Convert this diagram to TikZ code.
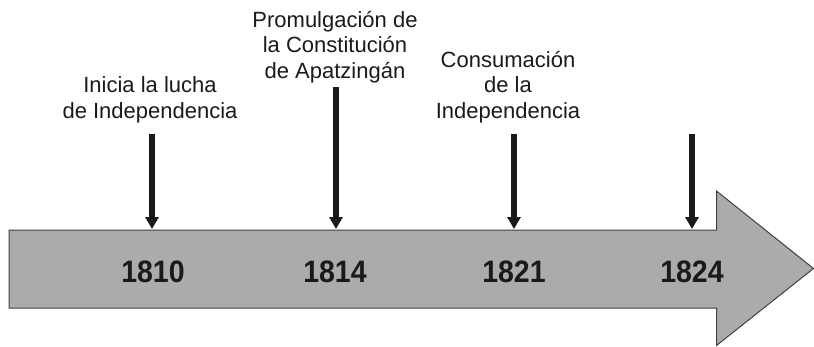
\documentclass[tikz,border=0pt]{standalone}
\usepackage{fontspec}
\setmainfont{Liberation Sans}
\usetikzlibrary{arrows.meta}
\definecolor{bodygray}{RGB}{171,171,171}
\definecolor{edgegray}{RGB}{64,64,64}
\definecolor{ink}{RGB}{26,26,26}
\tikzset{
  lbl/.style={align=center, inner sep=0pt, anchor=base, text=ink,
    font=\fontsize{22pt}{25.5pt}\selectfont},
  yr/.style={inner sep=0pt, anchor=base, text=ink,
    font=\fontsize{31pt}{31pt}\selectfont\bfseries},
  pin/.style={draw=ink, line width=6pt,
    -{Triangle[width=13pt,length=12pt]}}
}
\begin{document}
\begin{tikzpicture}[x=1pt,y=-1pt]
\useasboundingbox (0,0) rectangle (814,346);
% timeline arrow
\draw[fill=bodygray, draw=edgegray, line width=1pt]
  (9,230) -- (716.5,230) -- (716.5,191) -- (813.5,268.5) -- (716.5,345.5)
  -- (716.5,308) -- (9,308) -- cycle;
% years
\node[yr] (y1) at (153,282) {\scalebox{0.92}[1]{1810}};
\node[yr] (y2) at (335,282) {\scalebox{0.92}[1]{1814}};
\node[yr] (y3) at (514,282) {\scalebox{0.92}[1]{1821}};
\node[yr] (y4) at (692,282) {\scalebox{0.92}[1]{1824}};
% labels (anchor = baseline of last line)
\node[lbl] (l1) at (150,118) {Inicia la lucha\\de Independencia};
\node[lbl] (l2) at (335,78) {Promulgación de\\la Constitución\\de Apatzingán};
\node[lbl] (l3) at (508,118) {Consumación\\de la\\Independencia};
% pins
\coordinate (s1) at (152,134); \coordinate (e1) at (152,229);
\coordinate (s2) at (336,87);  \coordinate (e2) at (336,229);
\coordinate (s3) at (514,134); \coordinate (e3) at (514,229);
\coordinate (s4) at (692,134); \coordinate (e4) at (692,229);
\draw[pin] (s1) -- (e1);
\draw[pin] (s2) -- (e2);
\draw[pin] (s3) -- (e3);
\draw[pin] (s4) -- (e4);
\end{tikzpicture}
\end{document}
